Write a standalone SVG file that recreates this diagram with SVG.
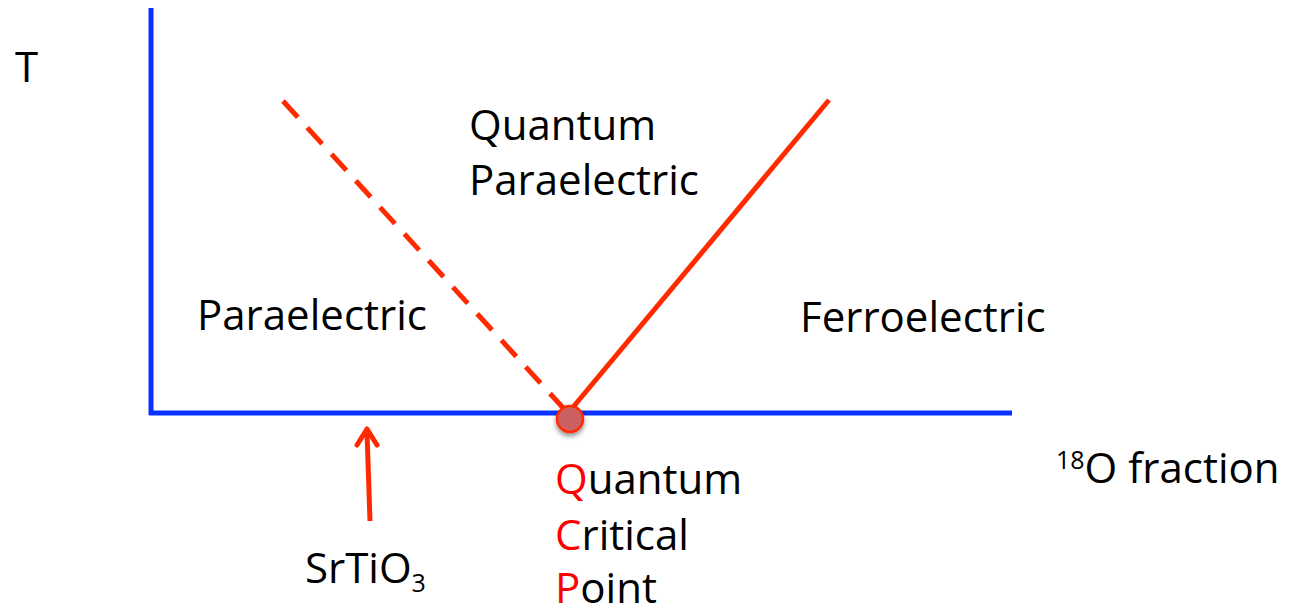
<svg xmlns="http://www.w3.org/2000/svg" width="1289" height="613" viewBox="0 0 1289 613">
<style>
text{font-family:"Open Sans",Lato,"Liberation Sans",sans-serif;font-size:42px;fill:#000}
.r{fill:#ff0000}
.ax{stroke:#0a32ff;stroke-width:5;fill:none}
.pl{stroke:#ff2a00;stroke-width:5;fill:none}
</style>
<defs>
<filter id="sh" x="-50%" y="-50%" width="200%" height="200%"><feDropShadow dx="0" dy="3" stdDeviation="2.5" flood-color="#000" flood-opacity="0.45"/></filter>
</defs>
<g id="connectors">
<line class="ax" x1="151" y1="8" x2="151" y2="415"/>
<line class="ax" x1="149" y1="413" x2="1012" y2="413"/>
<line class="pl" x1="283" y1="101" x2="566" y2="411" stroke-dasharray="22,14"/>
<line class="pl" x1="569" y1="412" x2="829" y2="100"/>
<line class="pl" x1="370" y1="521" x2="367" y2="432"/>
<polyline class="pl" points="357,445 367,429 377,445" stroke-linecap="round" stroke-linejoin="round"/>
</g>
<g id="qcp-point">
<circle cx="570" cy="419" r="13" fill="#cc6060" stroke="#ff2a00" stroke-width="2.5" filter="url(#sh)"/>
</g>
<g id="label-T"><text x="15" y="82">T</text></g>
<g id="region-paraelectric"><text x="197" y="330">Paraelectric</text></g>
<g id="region-quantum-paraelectric"><text x="469" y="140">Quantum</text><text x="469" y="195">Paraelectric</text></g>
<g id="region-ferroelectric"><text x="800" y="332">Ferroelectric</text></g>
<g id="label-qcp"><text x="555" y="494"><tspan class="r">Q</tspan>uantum</text><text x="555" y="550"><tspan class="r">C</tspan>ritical</text><text x="555" y="603"><tspan class="r">P</tspan>oint</text></g>
<g id="label-xaxis"><text x="1056" y="483"><tspan font-size="25" dy="-14">18</tspan><tspan dy="14">O fraction</tspan></text></g>
<g id="label-srtio3"><text x="305" y="583">SrTiO<tspan font-size="25" dy="9">3</tspan></text></g>
</svg>
